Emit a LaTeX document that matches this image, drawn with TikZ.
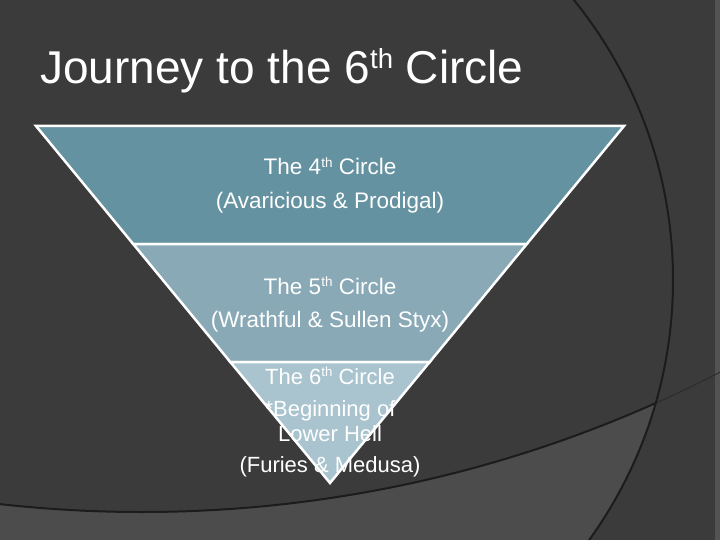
\documentclass[tikz,border=0pt]{standalone}
\usepackage{graphicx}
\usepackage{fontspec}
\setmainfont{Liberation Sans}
\definecolor{slide}{RGB}{59,59,59}
\definecolor{slidelow}{RGB}{76,76,76}
\definecolor{arcline}{RGB}{28,28,28}
\definecolor{tier1}{RGB}{101,146,160}
\definecolor{tier2}{RGB}{136,169,181}
\definecolor{tier3}{RGB}{169,196,207}
\newcommand\ord[1]{\raisebox{.33em}{\scalebox{.6}{#1}}}

\begin{document}
\begin{tikzpicture}[x=1pt, y=-1pt,
  band/.style={draw=white, line width=2.5pt},
  lbl/.style={text=white, anchor=base, inner sep=0pt, font=\fontsize{22.5}{27}\selectfont},
  lblsm/.style={lbl, font=\fontsize{22}{26}\selectfont},
  heading/.style={text=white, anchor=base west, inner sep=0pt, font=\fontsize{46}{55}\selectfont},
  arcl/.style={draw=arcline, line width=2pt}]
\useasboundingbox (0,0) rectangle (720,540);
\clip (0,0) rectangle (720,540);
% backdrop: slide theme arcs
\fill[slide] (0,0) rectangle (720,540);
\fill[slide!88!white] (715,0) rectangle (720,540);
\draw[slide!75!black, line width=1pt] (142,-750) circle[radius=1262pt];
\begin{scope}
  \clip (228,280) circle[radius=445pt];
  \fill[slidelow, even odd rule] (-10,-10) rectangle (730,550) (142,-750) circle[radius=1262pt];
  \draw[arcl] (142,-750) circle[radius=1262pt];
\end{scope}
\draw[arcl] (228,280) circle[radius=445pt];
% title
\node[heading] (ttl) at (40,84) {Journey to the 6\ord{th} Circle};
% funnel of circles
\draw[band, fill=tier1] (36,126) -- (624,126) -- (526.8,244) -- (133.2,244) -- cycle;
\draw[band, fill=tier2] (133.2,244) -- (526.8,244) -- (429.7,362) -- (230.3,362) -- cycle;
\draw[band, fill=tier3] (230.3,362) -- (429.7,362) -- (330,483) -- cycle;
\node[lbl] (c4) at (330,175) {The 4\ord{th} Circle};
\node[lbl] (c4s) at (330,209) {(Avaricious \& Prodigal)};
\node[lbl] (c5) at (330,294) {The 5\ord{th} Circle};
\node[lbl] (c5s) at (330,327) {(Wrathful \& Sullen Styx)};
\node[lblsm] (c6) at (330,384) {The 6\ord{th} Circle};
\node[lblsm] (c6a) at (330,416) {*Beginning of};
\node[lblsm] (c6b) at (330,441) {Lower Hell};
\node[lblsm] (c6s) at (330,472) {(Furies \& Medusa)};
\end{tikzpicture}
\end{document}
